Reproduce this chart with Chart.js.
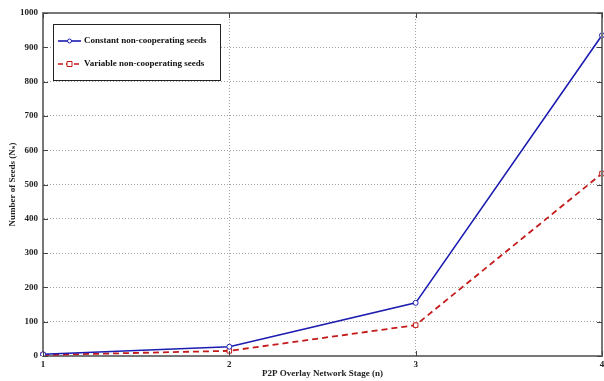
<!DOCTYPE html>
<html>
<head>
<meta charset="utf-8">
<script src="https://cdn.jsdelivr.net/npm/chart.js@4"></script>
<style>
  html, body { margin: 0; padding: 0; background: #fff; overflow: hidden; }
  #wrap { width: 604px; height: 381px; position: relative; overflow: hidden; }
</style>
</head>
<body>
<div id="wrap"><canvas id="seedChart" width="607" height="381"></canvas></div>
<script>
const stages = ['1', '2', '3', '4'];
const constantSeeds = [5, 27, 155, 935];
const variableSeeds = [3, 15, 90, 532];
const seriesLabels = ['Constant non-cooperating seeds', 'Variable non-cooperating seeds'];
const xTitle = 'P2P Overlay Network Stage (n)';
const yTitle = 'Number of Seeds (N\u209B)';

const BLUE = '#1c1cb0';
const RED = '#c41a1a';
const FONT = '"Liberation Serif", "DejaVu Serif", serif';

// legend box, axis titles and inward tick marks (matlab style)
const decorations = {
  id: 'decorations',
  afterDraw(chart) {
    const { ctx, chartArea, scales } = chart;
    ctx.save();

    // inward tick marks
    ctx.strokeStyle = '#444';
    ctx.lineWidth = 1;
    scales.y.ticks.forEach((t) => {
      const y = Math.round(scales.y.getPixelForValue(t.value)) + 0.5;
      ctx.beginPath();
      ctx.moveTo(chartArea.left, y);
      ctx.lineTo(chartArea.left + 5, y);
      ctx.moveTo(chartArea.right, y);
      ctx.lineTo(chartArea.right - 5, y);
      ctx.stroke();
    });
    scales.x.ticks.forEach((t, i) => {
      const x = Math.round(scales.x.getPixelForTick(i)) + 0.5;
      ctx.beginPath();
      ctx.moveTo(x, chartArea.bottom);
      ctx.lineTo(x, chartArea.bottom - 5);
      ctx.moveTo(x, chartArea.top);
      ctx.lineTo(x, chartArea.top + 5);
      ctx.stroke();
    });

    // axis titles
    ctx.fillStyle = '#222';
    ctx.font = 'bold 9px ' + FONT;
    ctx.textAlign = 'center';
    ctx.textBaseline = 'middle';
    ctx.fillText(xTitle, (chartArea.left + chartArea.right) / 2, 374);
    ctx.translate(13, (chartArea.top + chartArea.bottom) / 2);
    ctx.rotate(-Math.PI / 2);
    ctx.fillText(yTitle, 0, 0);
    ctx.setTransform(1, 0, 0, 1, 0, 0);

    // legend box
    const bx = 53.5, by = 24.5, bw = 167, bh = 56;
    ctx.fillStyle = '#fff';
    ctx.fillRect(bx, by, bw, bh);
    ctx.strokeStyle = '#222';
    ctx.lineWidth = 1;
    ctx.strokeRect(bx, by, bw, bh);

    const rows = [
      { y: 41, color: BLUE, dash: [], marker: 'circle' },
      { y: 64, color: RED, dash: [5, 3], marker: 'square' },
    ];
    rows.forEach((r, i) => {
      ctx.strokeStyle = r.color;
      ctx.lineWidth = 1.6;
      ctx.setLineDash(r.dash);
      ctx.beginPath();
      ctx.moveTo(58, r.y);
      ctx.lineTo(81, r.y);
      ctx.stroke();
      ctx.setLineDash([]);
      ctx.lineWidth = 1;
      ctx.beginPath();
      if (r.marker === 'circle') {
        ctx.arc(69.5, r.y, 2, 0, Math.PI * 2);
      } else {
        ctx.rect(67, r.y - 2.5, 5, 5);
      }
      ctx.fillStyle = '#fff';
      ctx.fill();
      ctx.stroke();
      ctx.fillStyle = '#111';
      ctx.textAlign = 'left';
      ctx.font = 'bold 9px ' + FONT;
      ctx.fillText(seriesLabels[i], 84, r.y);
    });
    ctx.restore();
  },
};

new Chart(document.getElementById('seedChart'), {
  type: 'line',
  data: {
    labels: stages,
    datasets: [
      {
        label: seriesLabels[0],
        data: constantSeeds,
        borderColor: BLUE,
        backgroundColor: '#fff',
        borderWidth: 1.6,
        pointStyle: 'circle',
        pointRadius: 2.5,
        pointBorderWidth: 1,
        tension: 0,
      },
      {
        label: seriesLabels[1],
        data: variableSeeds,
        borderColor: RED,
        backgroundColor: '#fff',
        borderWidth: 1.8,
        borderDash: [6, 4],
        pointStyle: 'rect',
        pointRadius: 3.2,
        pointBorderWidth: 1,
        tension: 0,
      },
    ],
  },
  options: {
    responsive: false,
    animation: false,
    layout: { padding: { top: 13, right: 0, left: 0, bottom: 0 } },
    plugins: {
      legend: { display: false },
      tooltip: { enabled: false },
    },
    scales: {
      x: {
        offset: false,
        grid: {
          color: '#a0a0a0',
          lineWidth: 1,
          drawTicks: false,
        },
        border: { color: '#777', width: 2, dash: [1, 2] },
        ticks: {
          color: '#222',
          font: { family: FONT, size: 9, weight: 'bold' },
          padding: 3,
          maxRotation: 0,
          autoSkip: false,
        },
        afterFit(scale) {
          scale.height = 25;
          scale.paddingLeft = 0;
          scale.paddingRight = 0;
        },
      },
      y: {
        min: 0,
        max: 1000,
        ticks: {
          stepSize: 100,
          color: '#222',
          font: { family: FONT, size: 9, weight: 'bold' },
          padding: 5,
          callback: (v) => String(v),
        },
        grid: {
          color: '#a0a0a0',
          lineWidth: 1,
          drawTicks: false,
        },
        border: { color: '#777', width: 2, dash: [1, 2] },
        afterFit(scale) {
          scale.width = 43;
          scale.paddingTop = 0;
          scale.paddingBottom = 0;
        },
      },
    },
  },
  plugins: [
    {
      id: 'frame',
      afterDatasetsDraw(chart) {
        const { ctx, chartArea } = chart;
        ctx.save();
        ctx.strokeStyle = '#777';
        ctx.lineWidth = 2;
        ctx.beginPath();
        ctx.moveTo(chartArea.left, chartArea.top);
        ctx.lineTo(chartArea.right, chartArea.top);
        ctx.lineTo(chartArea.right, chartArea.bottom);
        ctx.stroke();
        ctx.restore();
      },
    },
    decorations,
  ],
});
</script>
</body>
</html>
